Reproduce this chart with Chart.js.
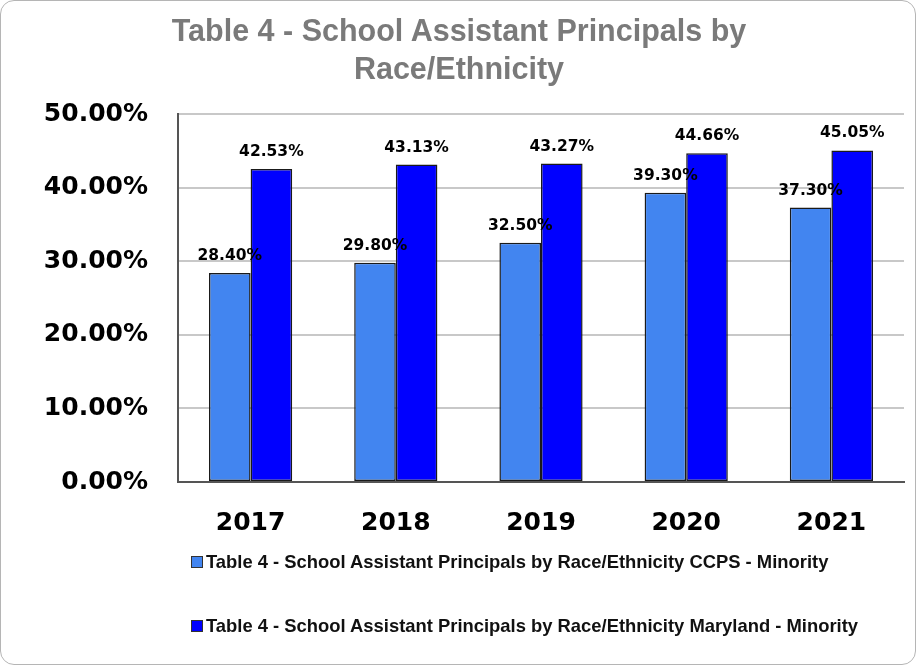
<!DOCTYPE html>
<html>
<head>
<meta charset="utf-8">
<script src="https://cdn.jsdelivr.net/npm/chart.js@4.4.1/dist/chart.umd.min.js"></script>
<style>
  html, body { margin: 0; padding: 0; background: #fff; }
  .card {
    position: relative;
    width: 914px; height: 663px;
    border: 1px solid #b5b5b5;
    border-radius: 14px;
    overflow: hidden;
    background: #fff;
  }
  canvas { position: absolute; left: 0; top: 0; }
  .title {
    position: absolute; left: 0; width: 916px; top: 10px;
    text-align: center;
    font: bold 30.5px "Liberation Sans", Arial, sans-serif;
    line-height: 38px;
    color: #7a7a7a;
  }
  .legend {
    position: absolute; left: 190px;
    font: bold 18.4px "Liberation Sans", Arial, sans-serif;
    color: #111;
  }
  .legend span.box {
    display: inline-block; width: 10px; height: 10px;
    border: 1px solid #333; margin-right: 3px; vertical-align: 0px;
  }
</style>
</head>
<body>
<div class="card">
  <canvas id="chart" width="916" height="665"></canvas>
  <div class="title">Table 4 - School Assistant Principals by<br>Race/Ethnicity</div>
  <div class="legend" id="legend"></div>
</div>
<script>
var years = ["2017", "2018", "2019", "2020", "2021"];
var ccpsMinority = [28.40, 29.80, 32.50, 39.30, 37.30];
var marylandMinority = [42.53, 43.13, 43.27, 44.66, 45.05];
var seriesNames = [
  "Table 4 - School Assistant Principals by Race/Ethnicity CCPS - Minority",
  "Table 4 - School Assistant Principals by Race/Ethnicity Maryland - Minority"
];
var seriesColors = ["#4285f0", "#0000ff"];

// value labels above each bar
var barLabels = {
  id: "barLabels",
  afterDatasetsDraw: function(chart) {
    var ctx = chart.ctx;
    ctx.save();
    ctx.font = "bold 15.5px 'DejaVu Sans', sans-serif";
    ctx.fillStyle = "#000";
    ctx.textAlign = "center";
    ctx.textBaseline = "middle";
    chart.data.datasets.forEach(function(ds, i) {
      chart.getDatasetMeta(i).data.forEach(function(bar, j) {
        ctx.fillText(ds.data[j].toFixed(2) + "%", bar.x, bar.y - 17);
      });
    });
    ctx.restore();
  }
};

var chart = new Chart(document.getElementById("chart"), {
  type: "bar",
  data: {
    labels: years,
    datasets: [
      {
        label: seriesNames[0],
        data: ccpsMinority,
        backgroundColor: seriesColors[0],
        borderColor: "#1a1a1a",
        borderWidth: 1.5,
        borderSkipped: false
      },
      {
        label: seriesNames[1],
        data: marylandMinority,
        backgroundColor: seriesColors[1],
        borderColor: "#1a1a1a",
        borderWidth: 1.5,
        borderSkipped: false
      }
    ]
  },
  options: {
    responsive: false,
    animation: false,
    layout: { padding: { top: 113, right: 13, left: 0, bottom: 0 } },
    plugins: {
      legend: { display: false },
      tooltip: { enabled: false }
    },
    datasets: { bar: { barPercentage: 1, categoryPercentage: 0.573 } },
    scales: {
      x: {
        grid: { display: false },
        border: { display: true, color: "#555", width: 2 },
        ticks: {
          color: "#000",
          padding: 18,
          font: { family: "DejaVu Sans", size: 25, weight: "bold" }
        },
        afterFit: function(s) { s.height = 665 - 481; }
      },
      y: {
        min: 0,
        max: 50,
        ticks: {
          stepSize: 10,
          color: "#000",
          padding: 30,
          font: { family: "DejaVu Sans", size: 25, weight: "bold" },
          callback: function(v) { return v.toFixed(2) + "%"; }
        },
        grid: { color: "#c8c8c8", lineWidth: 2, drawTicks: false },
        border: { display: true, color: "#555", width: 2 },
        afterFit: function(s) { s.width = 177; }
      }
    }
  },
  plugins: [barLabels]
});

// legend rows under the axis
var legendEl = document.getElementById("legend");
var rowTops = [550, 614];
seriesNames.forEach(function(name, i) {
  var row = document.createElement("div");
  row.style.position = "absolute";
  row.style.top = rowTops[i] + "px";
  row.style.whiteSpace = "nowrap";
  row.innerHTML = '<span class="box" style="background:' + seriesColors[i] + '"></span>' + name;
  legendEl.appendChild(row);
});
</script>
</body>
</html>
